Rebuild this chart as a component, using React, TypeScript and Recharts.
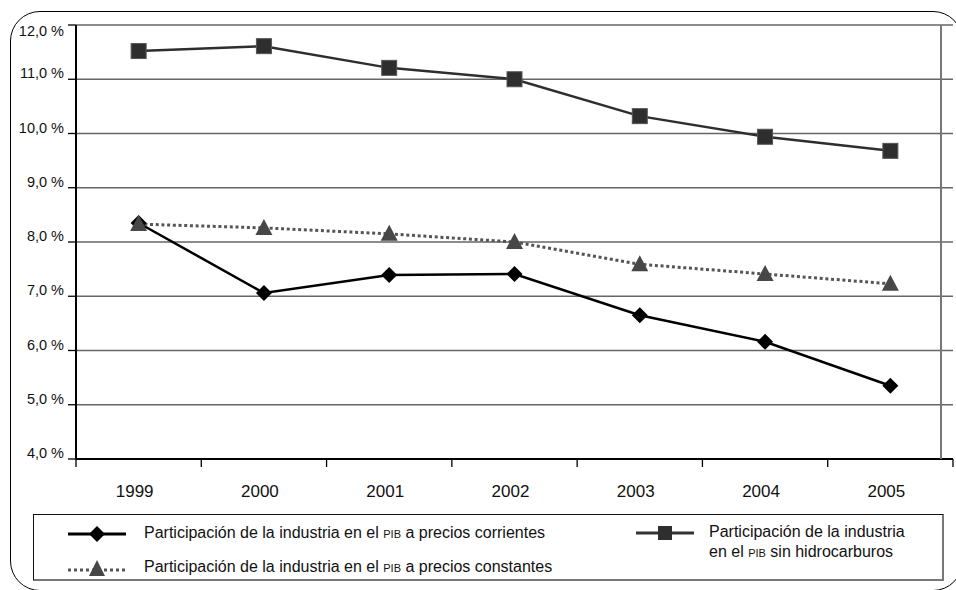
import { LineChart, Line, XAxis, YAxis, CartesianGrid, Legend } from 'recharts'

const years = ['1999', '2000', '2001', '2002', '2003', '2004', '2005']
const corrientes = [8.35, 7.06, 7.39, 7.41, 6.65, 6.16, 5.35]
const constantes = [8.33, 8.26, 8.15, 8.0, 7.59, 7.41, 7.23]
const sinHidrocarburos = [11.52, 11.61, 11.21, 11.0, 10.32, 9.94, 9.68]
const yTicks = [4, 5, 6, 7, 8, 9, 10, 11, 12]
const boundaryTicks = [0, 1, 2, 3, 4, 5, 6, 7]

const nameCorrientes = 'Participación de la industria en el PIB a precios corrientes'
const nameConstantes = 'Participación de la industria en el PIB a precios constantes'
const nameSinHidro = 'Participación de la industria en el PIB sin hidrocarburos'

const data = years.map((year, i) => ({
  year,
  idx: i,
  corrientes: corrientes[i],
  constantes: constantes[i],
  sinHidro: sinHidrocarburos[i],
}))

const FONT = '"Liberation Sans", Arial, sans-serif'

function withPib(text: string) {
  const parts = text.split('PIB')
  return (
    <>
      {parts[0]}
      {parts.length > 1 && <span style={{ fontSize: 11 }}>PIB</span>}
      {parts[1]}
    </>
  )
}

function YTick({ x, y, payload }: any) {
  const v = payload.value as number
  const dy = v === 12 ? 11 : -1
  return (
    <text x={x} y={y + dy} textAnchor="end" fontSize={14.5} fill="#111" fontFamily={FONT}>
      {v.toFixed(1).replace('.', ',')} %
    </text>
  )
}

function XTick({ x, y, payload }: any) {
  return (
    <text x={x - 4} y={y + 30} textAnchor="middle" fontSize={17} fill="#111" fontFamily={FONT}>
      {payload.value}
    </text>
  )
}

// tick marks only, no label (boundaries between years)
function EmptyTick() {
  return <g />
}

function Diamond({ cx, cy }: any) {
  if (cx == null || cy == null) return null
  return <polygon points={`${cx},${cy - 8} ${cx + 8},${cy} ${cx},${cy + 8} ${cx - 8},${cy}`} fill="#000" />
}

function Square({ cx, cy }: any) {
  if (cx == null || cy == null) return null
  return <rect x={cx - 7.5} y={cy - 7.5} width={15} height={15} fill="#2e2e2e" stroke="#555" strokeWidth={1} />
}

function Triangle({ cx, cy }: any) {
  if (cx == null || cy == null) return null
  return <polygon points={`${cx},${cy - 9} ${cx + 8.5},${cy + 7} ${cx - 8.5},${cy + 7}`} fill="#474747" />
}

function LegendBox() {
  const text = { position: 'absolute' as const, fontSize: 16, lineHeight: '20px', color: '#111', fontFamily: FONT, whiteSpace: 'nowrap' as const }
  return (
    <div style={{ position: 'relative', width: 911, height: 67, boxSizing: 'border-box', borderTop: '1.5px solid #111', borderLeft: '1.5px solid #111', borderRight: '2px solid #777', borderBottom: '2px solid #777', background: '#fff' }}>
      <svg style={{ position: 'absolute', left: 34, top: 11 }} width={58} height={16}>
        <line x1={0} y1={8} x2={58} y2={8} stroke="#000" strokeWidth={3} />
        <polygon points="29,0 37,8 29,16 21,8" fill="#000" />
      </svg>
      <div style={{ ...text, left: 110, top: 8 }}>{withPib(nameCorrientes)}</div>
      <svg style={{ position: 'absolute', left: 34, top: 44 }} width={58} height={18}>
        <line x1={0} y1={11} x2={58} y2={11} stroke="#555" strokeWidth={3} strokeDasharray="3 3" />
        <polygon points="29,1 37,17 21,17" fill="#474747" />
      </svg>
      <div style={{ ...text, left: 110, top: 42 }}>{withPib(nameConstantes)}</div>
      <svg style={{ position: 'absolute', left: 602, top: 10 }} width={58} height={16}>
        <line x1={0} y1={8} x2={58} y2={8} stroke="#333" strokeWidth={3} />
        <rect x={22} y={1} width={14} height={14} fill="#2e2e2e" />
      </svg>
      <div style={{ ...text, left: 675, top: 7 }}>
        Participación de la industria
        <br />
        en el <span style={{ fontSize: 11 }}>PIB</span> sin hidrocarburos
      </div>
    </div>
  )
}

export default function App() {
  return (
    <div style={{ position: 'absolute', left: 0, top: 0, width: 956, height: 590, overflow: 'hidden', background: '#fff', fontFamily: FONT }}>
      <div style={{ position: 'absolute', left: 10, top: 11, width: 953, height: 580, border: '1.5px solid #000', borderRadius: 30, boxSizing: 'border-box' }} />
      <LineChart width={956} height={590} data={data} margin={{ top: 25, right: 3, left: 0, bottom: 83 }}>
        <CartesianGrid vertical={false} stroke="#666" strokeWidth={1.3} />
        <XAxis
          xAxisId="a"
          type="number"
          dataKey="idx"
          domain={[0, 7]}
          ticks={boundaryTicks}
          interval={0}
          tick={<EmptyTick />}
          tickSize={8}
          height={8}
          axisLine={{ stroke: '#000', strokeWidth: 2 }}
          tickLine={{ stroke: '#000', strokeWidth: 1.3 }}
        />
        <XAxis
          xAxisId="b"
          dataKey="year"
          scale="band"
          height={40}
          axisLine={false}
          tickLine={false}
          tickSize={0}
          tickMargin={0}
          tick={<XTick />}
          interval={0}
        />
        <YAxis
          domain={[4, 12]}
          ticks={yTicks}
          width={76}
          tickSize={8}
          tickMargin={4}
          axisLine={{ stroke: '#000', strokeWidth: 2 }}
          tickLine={{ stroke: '#000', strokeWidth: 1.3 }}
          tick={<YTick />}
          allowDataOverflow
        />
        <Line xAxisId="b" dataKey="corrientes" name={nameCorrientes} stroke="#000" strokeWidth={2.5} dot={<Diamond />} activeDot={false} isAnimationActive={false} />
        <Line xAxisId="b" dataKey="constantes" name={nameConstantes} stroke="#555" strokeWidth={3} strokeDasharray="3 2.7" dot={<Triangle />} activeDot={false} isAnimationActive={false} />
        <Line xAxisId="b" dataKey="sinHidro" name={nameSinHidro} stroke="#2e2e2e" strokeWidth={2.5} dot={<Square />} activeDot={false} isAnimationActive={false} />
        <Legend
          layout="horizontal"
          verticalAlign="middle"
          align="center"
          content={<LegendBox />}
          wrapperStyle={{ position: 'absolute', left: 33, top: 514, width: 911, height: 67 }}
        />
      </LineChart>
      <div style={{ position: 'absolute', left: 940, top: 25, width: 2, height: 434, background: '#777' }} />
    </div>
  )
}
